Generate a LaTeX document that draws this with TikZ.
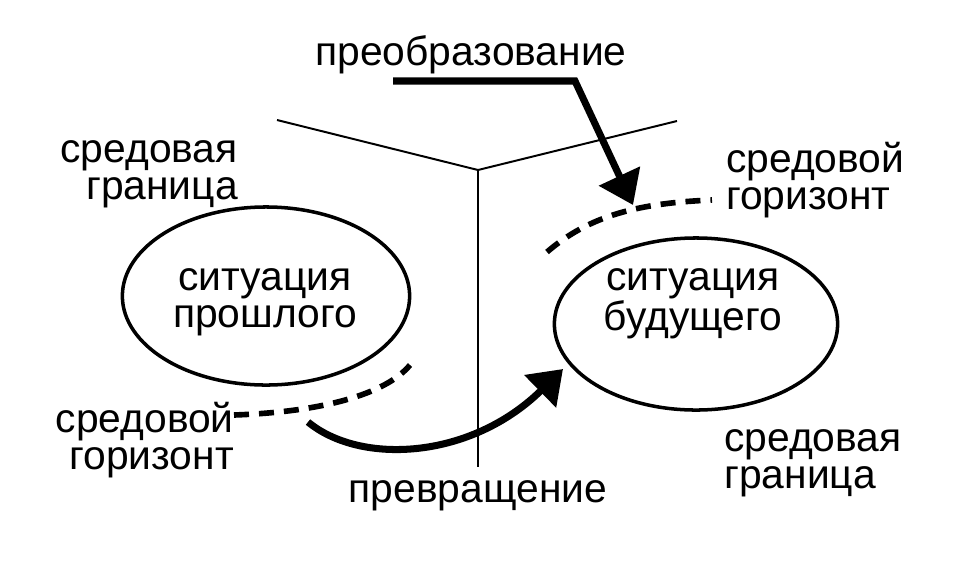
\documentclass[tikz,border=0pt]{standalone}
\usepackage{fontspec}
\setmainfont{Liberation Sans}
\usetikzlibrary{arrows.meta,shapes.geometric}

\begin{document}
\begin{tikzpicture}[
  x=0.025cm, y=-0.025cm,
  >={Triangle[length=0.8cm, width=1.1cm]},
  lbl/.style={inner sep=0pt, font=\fontsize{29}{26}\selectfont},
  situation/.style={ellipse, draw, line width=2.5pt, inner sep=0pt},
  frame/.style={line width=1.4pt},
  horizon/.style={line width=4pt, dash pattern=on 0.375cm off 0.25cm},
  move/.style={->, line width=5pt}
]
\useasboundingbox (0,0) rectangle (956,562);

\node (past) [situation, minimum width=7.18cm, minimum height=4.45cm] at (266,296) {};
\node (future) [situation, minimum width=7.08cm, minimum height=4.3cm] at (696,324) {};
\node (pasttext) [lbl, align=center] at (265,302) {ситуация\\прошлого};
\node (futtext) [lbl, align=center] at (693,304) {ситуация\\будущего};

\node (transform) [lbl, anchor=base] at (471,65) {преобразование};
\node (change) [lbl, anchor=base] at (478,502) {превращение};
\node (bndpast) [lbl, align=right, anchor=east] at (238,174) {средовая\\граница};
\node (horpast) [lbl, align=right, anchor=east] at (234,440) {средовой\\горизонт};
\node (horfut) [lbl, align=left, anchor=west] at (726,180) {средовой\\горизонт};
\node (bndfut) [lbl, align=left, anchor=west] at (724,463) {средовая\\граница};

\coordinate (junction) at (478,170);
\draw[frame] (277,120) -- (junction) -- (677,121);
\draw[frame] (junction) -- (478,467);

\draw[horizon] (horpast.east |- 0,415) .. controls (320,412) and (385,395) .. (410,365);
\draw[horizon] (547,252) .. controls (590,215) and (640,203) .. (712,200);

\coordinate (arrive) at (563,369);
\draw[move] (393,81) -- (575,81) -- (633,205);
\draw[move] (308,422) .. controls (360,465) and (470,460) .. (arrive);
\end{tikzpicture}
\end{document}
